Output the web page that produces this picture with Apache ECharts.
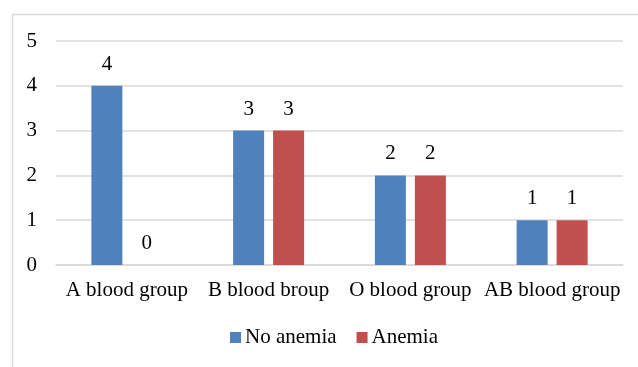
<!DOCTYPE html>
<html>
<head>
    <meta charset="utf-8" />
    <style>
        html, body { margin: 0; padding: 0; background: #fff; }
        #chart { width: 638px; height: 367px; }
    </style>
</head>
<body>
<div id="chart"></div>
<script src="https://cdn.jsdelivr.net/npm/echarts@6/dist/echarts.min.js"></script>
<script>
    // data
    var categories = ["A blood group", "B blood broup", "O blood group", "AB blood group"];
    var noAnemia = [4, 3, 2, 1];
    var anemia = [0, 3, 2, 1];
    var yTicks = [0, 1, 2, 3, 4, 5];

    var font = "'Liberation Serif', 'Times New Roman', serif";
    var fs = 21;
    var myChart = echarts.init(document.getElementById("chart"));
    var option = {
        animation: false,
        textStyle: { fontFamily: font },
        graphic: [{
            type: 'rect',
            left: 10, top: 12,
            shape: { width: 700, height: 420 },
            style: { fill: 'none', stroke: '#d9d9d9', lineWidth: 1.5 },
            z: -1
        }],
        grid: { left: 56, right: 15, top: 41, bottom: 102, containLabel: false },
        legend: {
            top: 327,
            left: 230,
            padding: 0,
            itemWidth: 11,
            itemHeight: 11,
            itemGap: 20,
            icon: 'rect',
            textStyle: { fontFamily: font, fontSize: fs, color: '#000', padding: [0, 0, 0, -1] },
            data: ["No anemia", "Anemia"]
        },
        xAxis: {
            type: 'category',
            data: categories,
            axisLine: { lineStyle: { color: '#d9d9d9', width: 1.5 } },
            axisTick: { show: false },
            axisLabel: { color: '#000', fontSize: fs, fontFamily: font, margin: 15, interval: 0 }
        },
        yAxis: {
            type: 'value',
            min: yTicks[0],
            max: yTicks[yTicks.length - 1],
            interval: 1,
            axisLine: { show: false },
            axisTick: { show: false },
            splitLine: { lineStyle: { color: '#d9d9d9', width: 1.5 } },
            axisLabel: { color: '#000', fontSize: fs, fontFamily: font, margin: 19 }
        },
        series: [
            {
                name: "No anemia",
                type: 'bar',
                data: noAnemia,
                barWidth: 31,
                barGap: '29%',
                itemStyle: { color: '#4F81BD' },
                label: { show: true, position: 'top', distance: 11, color: '#000', fontSize: fs, fontFamily: font }
            },
            {
                name: "Anemia",
                type: 'bar',
                data: anemia,
                barWidth: 31,
                itemStyle: { color: '#C0504D' },
                label: { show: true, position: 'top', distance: 11, color: '#000', fontSize: fs, fontFamily: font }
            }
        ]
    };
    myChart.setOption(option);
</script>
</body>
</html>
